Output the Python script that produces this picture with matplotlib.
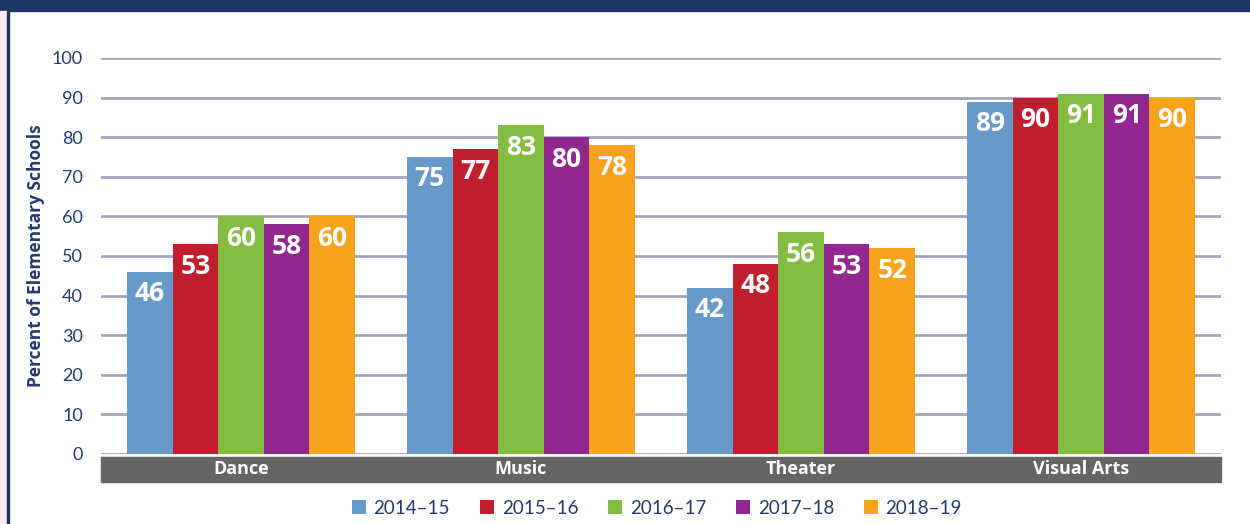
import matplotlib.pyplot as plt
import numpy as np
from matplotlib.patches import Rectangle

plt.rcParams['font.family'] = ['Lato', 'DejaVu Sans']
bold_font = ['Open Sans', 'DejaVu Sans']

categories = ['Dance', 'Music', 'Theater', 'Visual Arts']
years = ['2014–15', '2015–16', '2016–17', '2017–18', '2018–19']
values = {
    '2014–15': [46, 75, 42, 89],
    '2015–16': [53, 77, 48, 90],
    '2016–17': [60, 83, 56, 91],
    '2017–18': [58, 80, 53, 91],
    '2018–19': [60, 78, 52, 90],
}
colors = ['#6799C9', '#BE1E2D', '#82BC41', '#92278F', '#F9A21B']
navy = '#243A6B'

fig = plt.figure(figsize=(12.5, 5.24), dpi=100)
# frame: top banner, pink strip and border line on the left
fig.patches.append(Rectangle((0, 1 - 11 / 524), 1, 11 / 524, transform=fig.transFigure,
                             color='#1F3564', zorder=0))
fig.patches.append(Rectangle((0, 0), 7 / 1250, 1 - 11 / 524, transform=fig.transFigure,
                             color='#FBEBF2', zorder=0))
fig.patches.append(Rectangle((7 / 1250, 0), 2 / 1250, 1 - 11 / 524, transform=fig.transFigure,
                             color='#1F3564', zorder=0))

ax = fig.add_axes([101 / 1250, 1 - 454 / 524, 1120 / 1250, 396 / 524])
ax.set_xlim(0, 4)
ax.set_ylim(0, 100)
ax.set_yticks(range(0, 101, 10))
ax.yaxis.grid(True, color='#A3A3BF', linewidth=2)
ax.set_axisbelow(True)
for s in ax.spines.values():
    s.set_visible(False)
ax.tick_params(axis='y', length=0, pad=13, labelsize=13, labelcolor=navy)
ax.set_xticks([])
ax.set_ylabel('Percent of Elementary Schools', fontsize=12.5, fontweight='bold',
              family=bold_font, color=navy, labelpad=5)

x = np.arange(len(categories)) + 0.5
w = 0.163
for i, yr in enumerate(years):
    pos = x + (i - 2) * w
    bars = ax.bar(pos, values[yr], width=w, color=colors[i], label=yr, zorder=3)
    for b, v in zip(bars, values[yr]):
        ax.annotate(str(v), (b.get_x() + b.get_width() / 2, v), xytext=(0, -22),
                    textcoords='offset pixels', ha='center', va='center',
                    color='white', fontsize=19, fontweight='bold', family=bold_font,
                    zorder=4)

# gray category band under the axis
ax.add_patch(Rectangle((0, -28 / 396), 1, 25 / 396, transform=ax.transAxes,
                       color='#646567', clip_on=False, zorder=2))
for xi, c in zip(x, categories):
    ax.text(xi / 4, -15.5 / 396, c, transform=ax.transAxes, ha='center', va='center',
            color='white', fontsize=13, fontweight='bold', family=bold_font)

leg = fig.legend(loc='center', bbox_to_anchor=(657 / 1250, 1 - 508 / 524), ncol=5,
                 frameon=False, fontsize=13.5, handlelength=0.75, handleheight=0.75,
                 handletextpad=0.4, columnspacing=1.6)
for t in leg.get_texts():
    t.set_color(navy)

fig.savefig('out.png', dpi=100)
